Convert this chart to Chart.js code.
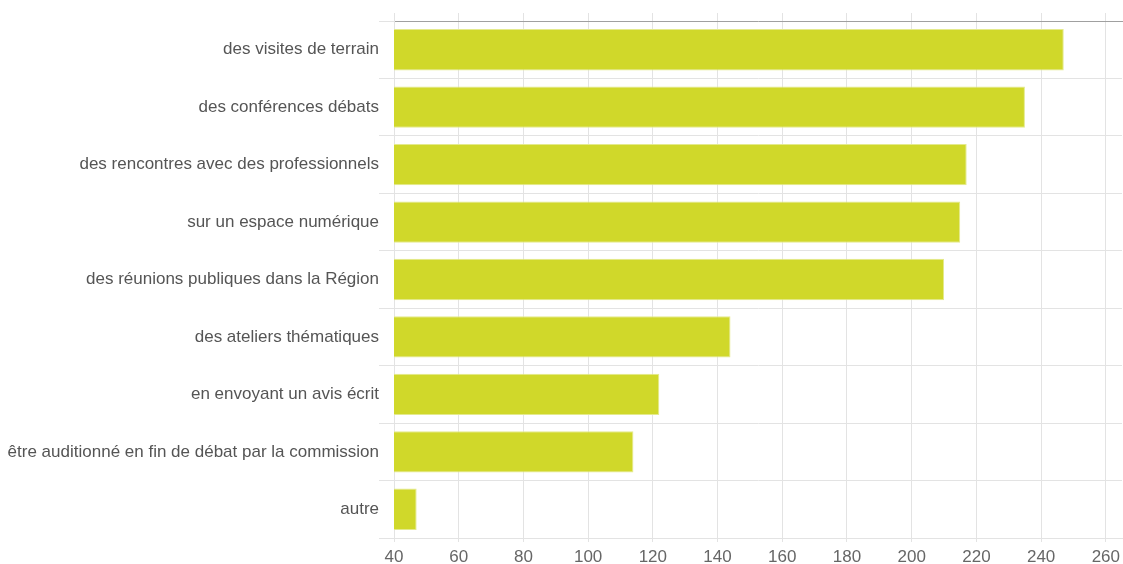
<!DOCTYPE html>
<html>
<head>
<meta charset="utf-8">
<script src="https://cdn.jsdelivr.net/npm/chart.js@4/dist/chart.umd.min.js"></script>
<style>
    html, body { margin: 0; padding: 0; background: #fff; }
    #wrap { width: 1123px; height: 564px; }
</style>
</head>
<body>
<div id="wrap"><canvas id="chart" width="1123" height="564"></canvas></div>
<script>
// catégories (axe vertical)
const categories = [
    'des visites de terrain',
    'des conférences débats',
    'des rencontres avec des professionnels',
    'sur un espace numérique',
    'des réunions publiques dans la Région',
    'des ateliers thématiques',
    'en envoyant un avis écrit',
    'être auditionné en fin de débat par la commission',
    'autre'
];
// nombre de réponses
const responses = [247, 235, 217, 215, 210, 144, 122, 114, 47];
// graduations de l'axe horizontal
const tickValues = [40, 60, 80, 100, 120, 140, 160, 180, 200, 220, 240, 260];
const axisMin = 40;
const axisMax = 265;

const barColor = '#d0d82a';
const gridColor = '#e3e3e3';
const labelFont = { family: 'Liberation Sans', size: 17 };

// graduations fixes : 40 à 260
function setTicks(axis) {
    axis.ticks = tickValues.map(v => ({ value: v }));
}

new Chart(document.getElementById('chart'), {
    type: 'bar',
    data: {
        labels: categories,
        datasets: [{
            data: responses,
            backgroundColor: barColor,
            borderColor: '#e4ea8c',
            borderWidth: 1,
            borderSkipped: 'start'
        }]
    },
    options: {
        indexAxis: 'y',
        responsive: false,
        animation: false,
        layout: { padding: { top: 13, right: 1, bottom: 0, left: 0 } },
        plugins: {
            legend: { display: false },
            tooltip: { enabled: false }
        },
        scales: {
            x: {
                position: 'bottom',
                min: axisMin,
                max: axisMax,
                afterBuildTicks: setTicks,
                afterFit: axis => {
                    axis.height = 26;
                    axis.paddingRight = 0;
                },
                ticks: {
                    color: '#666',
                    padding: 5,
                    font: labelFont
                },
                grid: {
                    color: gridColor,
                    drawOnChartArea: false,
                    tickLength: 4
                },
                border: { color: gridColor }
            },
            x2: {
                position: 'top',
                min: axisMin,
                max: axisMax,
                afterBuildTicks: setTicks,
                ticks: { display: false },
                grid: {
                    color: gridColor,
                    tickLength: 8
                },
                border: { color: '#a0a0a0' }
            },
            y: {
                afterFit: axis => { axis.width = 394; },
                ticks: {
                    color: '#555',
                    padding: 0,
                    font: labelFont
                },
                grid: {
                    color: gridColor,
                    tickLength: 15
                },
                border: { color: gridColor }
            }
        }
    }
});
</script>
</body>
</html>
